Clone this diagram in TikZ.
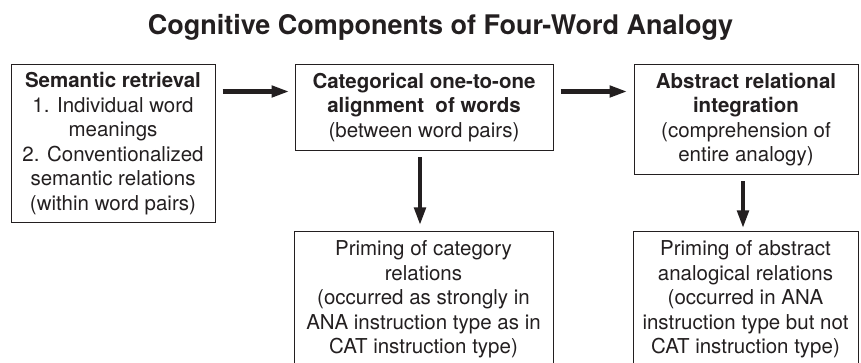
\documentclass[tikz,border=0pt]{standalone}
\usepackage{fontspec}
\newfontfamily\hv{TeX Gyre Heros}
\usetikzlibrary{arrows.meta}
\definecolor{ink}{HTML}{231F20}
\begin{document}
\begin{tikzpicture}[x=1pt,y=-1pt,
  boxtext/.style={font=\hv\fontsize{20.5}{24.5}\selectfont},
  box/.style={draw=ink, text=ink, line width=1pt, align=center, inner sep=2pt, boxtext},
  bigarrow/.style={draw=ink, line width=4.6pt, -{Triangle[length=18pt,width=11pt]}},
  ttl/.style={font=\hv\bfseries\fontsize{27}{32}\selectfont, text=ink}
]
\useasboundingbox (0,0) rectangle (861,363);
\node[ttl, anchor=base] (title) at (440.5,35) {Cognitive Components of Four-Word Analogy};

\node[box, minimum width=204pt, minimum height=158pt] (b1) at (113,144)
  {\strut\textbf{Semantic retrieval}\\ \strut 1. Individual word\\ \strut meanings\\ \strut 2. Conventionalized\\ \strut semantic relations\\ \strut (within word pairs)};
\node[box, minimum width=258pt, minimum height=86pt] (b2) at (424,108)
  {\strut\textbf{Categorical one-to-one}\\ \strut\textbf{alignment\ \ of words}\\ \strut (between word pairs)};
\node[box, minimum width=224pt, minimum height=110pt] (b3) at (746,120)
  {\strut\textbf{Abstract relational}\\ \strut\textbf{integration}\\ \strut (comprehension of\\ \strut entire analogy)};
\node[box, minimum width=259pt, minimum height=136pt] (b4) at (423.5,300)
  {\strut Priming of category\\ \strut relations\\ \strut (occurred as strongly in\\ \strut ANA instruction type as in\\ \strut CAT instruction type)};
\node[box, minimum width=225pt, minimum height=136pt] (b5) at (745.5,300)
  {\strut Priming of abstract\\ \strut analogical relations\\ \strut (occurred in ANA\\ \strut instruction type but not\\ \strut CAT instruction type)};

\draw[bigarrow] ([xshift=7pt,yshift=-27pt]b1.north east) -- ([xshift=-5pt,yshift=-27pt]b2.north west);
\draw[bigarrow] ([xshift=7pt,yshift=-27pt]b2.north east) -- ([xshift=-6pt,yshift=-27pt]b3.north west);
\draw[bigarrow] ([xshift=-4pt,yshift=-6pt]b2.south) -- ([xshift=-3.5pt,yshift=6pt]b4.north);
\draw[bigarrow] ([xshift=-3pt,yshift=-6pt]b3.south) -- ([xshift=-2.5pt,yshift=3pt]b5.north);
\end{tikzpicture}
\end{document}
